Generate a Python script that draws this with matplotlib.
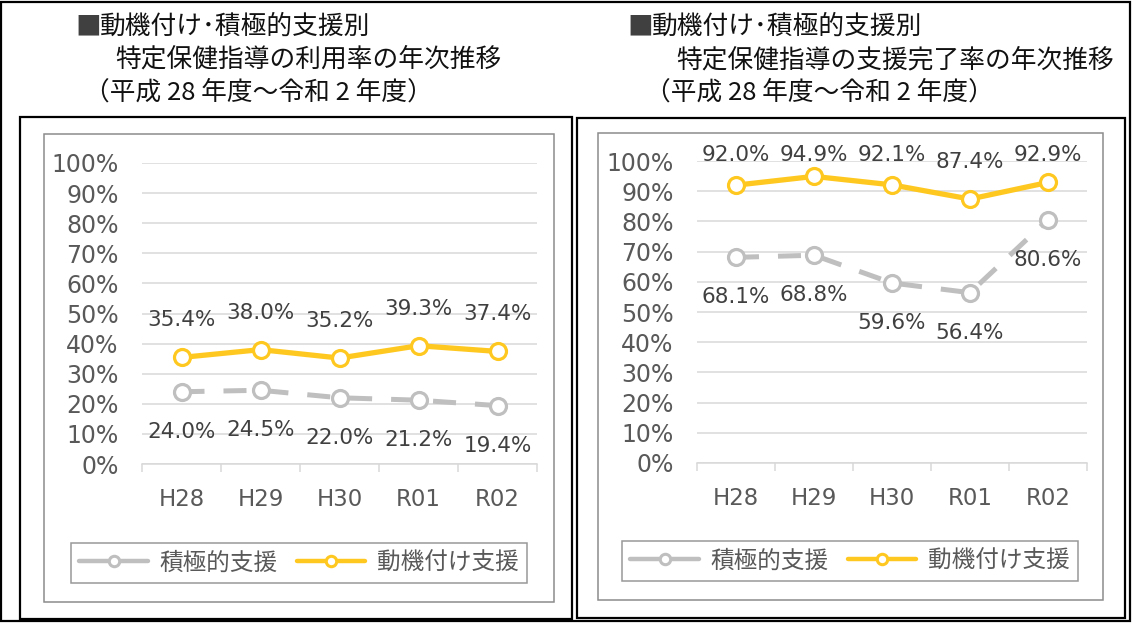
import matplotlib
matplotlib.use("Agg")
import matplotlib.pyplot as plt
from matplotlib.lines import Line2D
from matplotlib.patches import Rectangle
from matplotlib.ticker import FixedLocator, FuncFormatter

plt.rcParams['font.family'] = ['DejaVu Sans', 'Noto Sans CJK JP']

# ---- data ----
categories = ['H28', 'H29', 'H30', 'R01', 'R02']
use_active = [24.0, 24.5, 22.0, 21.2, 19.4]       # 積極的支援 利用率
use_motiv = [35.4, 38.0, 35.2, 39.3, 37.4]        # 動機付け支援 利用率
comp_active = [68.1, 68.8, 59.6, 56.4, 80.6]      # 積極的支援 支援完了率
comp_motiv = [92.0, 94.9, 92.1, 87.4, 92.9]       # 動機付け支援 支援完了率
series_names = ['積極的支援', '動機付け支援']
title_line1 = '動機付け･積極的支援別'
title_left2 = '特定保健指導の利用率の年次推移'
title_right2 = '特定保健指導の支援完了率の年次推移'
title_line3 = '（平成 28 年度～令和 2 年度）'

W, H = 1132, 625
fig = plt.figure(figsize=(W / 100, H / 100), dpi=100)
fig.patch.set_facecolor('white')

YEL = '#FFC820'
GRY = '#BFBFBF'
GRID = '#D9D9D9'
TICKC = '#595959'
LABC = '#404040'
CJK = ['Noto Sans CJK JP', 'DejaVu Sans']


def fx(px):
    return px / W


def fy(py):
    return 1 - py / H


def frame(x0, y0, x1, y1, color, lw):
    fig.patches.append(Rectangle((fx(x0), fy(y1)), fx(x1) - fx(x0), fy(y0) - fy(y1),
                                 transform=fig.transFigure, fill=False,
                                 edgecolor=color, linewidth=lw, zorder=0))


# frames
frame(1, 2, 1130, 621, '#000000', 1.6)
frame(20, 117, 572, 619, '#000000', 1.6)
frame(577, 118, 1125, 618, '#000000', 1.6)
frame(44, 134, 554, 602, '#8C8C8C', 1.1)
frame(598, 133, 1103, 600, '#8C8C8C', 1.1)

# titles
tfs = 18.5
TC = '#111111'
for bx, lx2, lx3, t2 in [(75, 115, 84, title_left2), (627, 676, 645, title_right2)]:
    fig.text(fx(bx), fy(27), '■', family=CJK, fontsize=tfs, color='#404040', va='center', ha='left')
    fig.text(fx(bx + 25), fy(27), title_line1, family=CJK, fontsize=tfs, color=TC, va='center', ha='left')
    fig.text(fx(lx2), fy(60), t2, family=CJK, fontsize=tfs, color=TC, va='center', ha='left')
    fig.text(fx(lx3), fy(93), title_line3, family=CJK, fontsize=tfs, color=TC, va='center', ha='left')


def make_chart(rect, active, motiv, legend_center, up_px, down_px, top_cap):
    ax = fig.add_axes(rect)
    x = list(range(len(categories)))
    a = [v / 100 for v in active]
    m = [v / 100 for v in motiv]
    la, = ax.plot(x, a, color=GRY, lw=3.6, marker='o', ms=11.5, mew=2.3,
                  mfc='white', mec=GRY, zorder=3, clip_on=False)
    la.set_dashes([4.6, 3.8])
    ax.plot(x, m, color=YEL, lw=3.8, marker='o', ms=11.5, mew=2.3,
            mfc='white', mec=YEL, zorder=4, clip_on=False, solid_capstyle='round')
    ax.set_xlim(-0.5, len(categories) - 0.5)
    ax.set_ylim(0, 1)
    ax.yaxis.set_major_locator(FixedLocator([i / 10 for i in range(11)]))
    ax.yaxis.set_major_formatter(FuncFormatter(lambda v, p: f'{v * 100:.0f}%'))
    ax.set_xticks(x)
    ax.set_xticklabels(categories)
    ax.set_xticks([i - 0.5 for i in range(len(categories) + 1)], minor=True)
    ax.tick_params(axis='x', which='major', length=0, pad=17, labelsize=16.5, labelcolor=TICKC)
    ax.tick_params(axis='x', which='minor', length=5.5, width=1.1, color=GRID, direction='out')
    ax.tick_params(axis='y', length=0, pad=17, labelsize=17, labelcolor=TICKC)
    ax.grid(axis='y', color=GRID, lw=1.1)
    ax.set_axisbelow(True)
    for s in ['left', 'right', 'top']:
        ax.spines[s].set_visible(False)
    ax.spines['bottom'].set_color(GRID)
    ax.spines['bottom'].set_linewidth(1.1)
    ppu = rect[3] * H  # pixels per unit
    for xi, v in zip(x, m):
        yl = min(v + up_px / ppu, top_cap)
        ax.text(xi, yl, f'{v * 100:.1f}%', ha='center', va='center', fontsize=15.5,
                color=LABC, zorder=6, clip_on=False)
    for xi, v in zip(x, a):
        ax.text(xi, v - down_px / ppu, f'{v * 100:.1f}%', ha='center', va='center',
                fontsize=15.5, color=LABC, zorder=6, clip_on=False)
    h1 = Line2D([], [], color=GRY, lw=3.2, marker='o', ms=7.5, mew=2.2, mfc='white', mec=GRY,
                solid_capstyle='round')
    h2 = Line2D([], [], color=YEL, lw=3.2, marker='o', ms=7.5, mew=2.2, mfc='white', mec=YEL,
                solid_capstyle='round')
    leg = fig.legend([h1, h2], series_names, loc='center',
                     bbox_to_anchor=(fx(legend_center[0]), fy(legend_center[1])),
                     bbox_transform=fig.transFigure, ncol=2, frameon=True, fancybox=False,
                     prop={'family': CJK, 'size': 17}, handlelength=2.9, handletextpad=0.5,
                     columnspacing=0.8, borderpad=0.35, labelcolor=TICKC)
    leg.get_frame().set_edgecolor('#7F7F7F')
    leg.get_frame().set_linewidth(1.1)
    return ax


make_chart([fx(142), fy(464), fx(537) - fx(142), fy(163) - fy(464)],
           use_active, use_motiv, (299, 563), 37, 40, 1.5)
make_chart([fx(697), fy(463), fx(1087) - fx(697), fy(161) - fy(463)],
           comp_active, comp_motiv, (850, 561), 37, 40, 1.02)

fig.savefig('out.png', dpi=100, facecolor='white')
